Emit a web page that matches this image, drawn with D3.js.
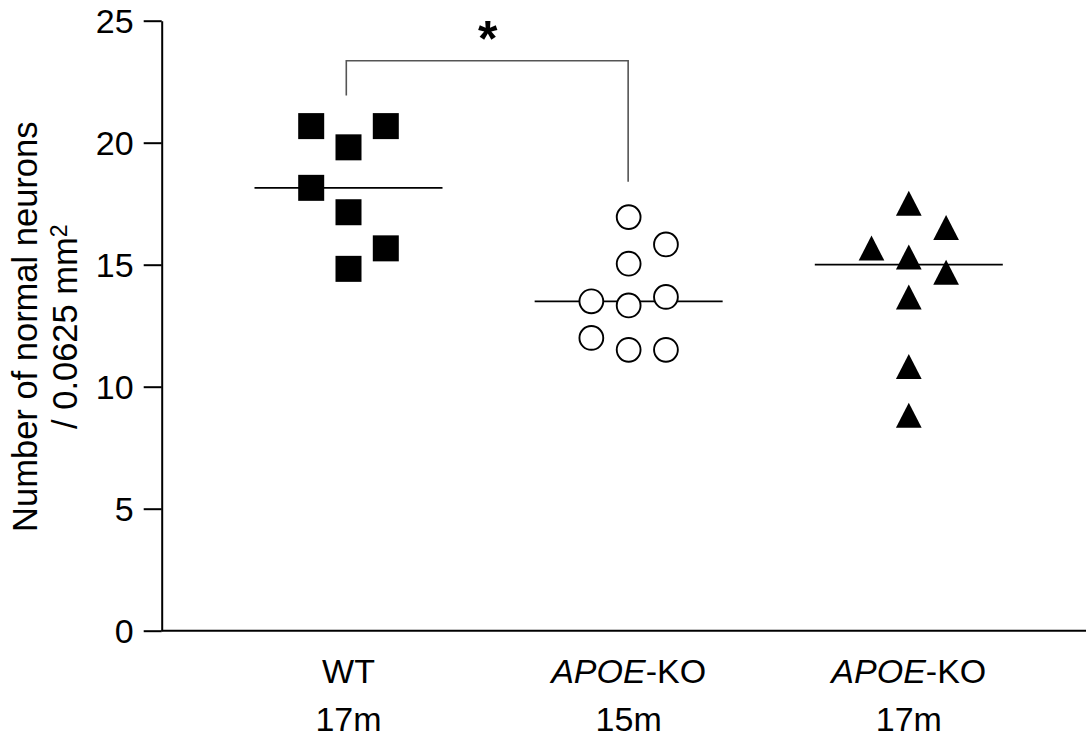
<!DOCTYPE html>
<html>
<head>
<meta charset="utf-8">
<script src="https://cdn.jsdelivr.net/npm/d3@7"></script>
<style>
  body { margin: 0; background: #fff; }
  text { font-family: "Liberation Sans", Arial, sans-serif; }
</style>
</head>
<body>
<div id="graph"></div>
<script>
// groups (x categories)
var groups = ["WT 17m", "APOE-KO 15m", "APOE-KO 17m"];
var labelTop = [["", "WT"], ["APOE", "-KO"], ["APOE", "-KO"]]; // [italic part, roman part]
var labelBottom = ["17m", "15m", "17m"];

// values
var wtValues = [20.68, 19.81, 20.68, 18.15, 17.15, 15.67, 14.83];
var wtSlots = [-1, 0, 1, -1, 0, 1, 0];
var ko15Values = [16.95, 15.83, 15.04, 13.50, 13.33, 13.68, 12.00, 11.51, 11.51];
var ko15Slots = [0, 1, 0, -1, 0, 1, -1, 0, 1];
var ko17Values = [17.52, 16.52, 15.68, 15.32, 14.69, 13.68, 10.83, 8.83];
var ko17Slots = [0, 1, -1, 0, 1, 0, 0, 0];

var yTicks = [0, 5, 10, 15, 20, 25];

// significance bracket: top level and where each leg ends
var bracket = [{from: "WT 17m", to: "APOE-KO 15m", top: 23.36, leftEnd: 21.93, rightEnd: 18.4, label: "*"}];

var series = [
  {group: groups[0], values: wtValues, slots: wtSlots, shape: "square"},
  {group: groups[1], values: ko15Values, slots: ko15Slots, shape: "circle"},
  {group: groups[2], values: ko17Values, slots: ko17Slots, shape: "triangle"}
];

var W = 1086, H = 737;
var plotLeft = 161.7, plotTop = 20.7, plotBottom = 630.7, plotRight = 1086;

var svg = d3.select("#graph").append("svg")
    .attr("width", W)
    .attr("height", H);

var y = d3.scaleLinear().domain([0, 25]).range([plotBottom, plotTop]);
var x = d3.scalePoint().domain(groups).range([348.5, 908.8]);
var slot = d3.scaleLinear().domain([-1, 1]).range([-37.3, 37.3]);

// y axis
var yAxis = d3.axisLeft(y)
    .tickValues(yTicks)
    .tickSize(18)
    .tickSizeOuter(0)
    .tickPadding(10);

var gY = svg.append("g")
    .attr("transform", "translate(" + plotLeft + ",0)")
    .call(yAxis);
gY.select(".domain").attr("stroke-width", 2);
gY.selectAll(".tick line").attr("stroke-width", 2);
gY.selectAll(".tick text")
    .attr("font-family", "Liberation Sans, Arial, sans-serif")
    .attr("font-size", 34)
    .attr("fill", "#000")
    .attr("dy", "0.36em");

// x axis line
svg.append("line")
    .attr("x1", plotLeft).attr("x2", plotRight)
    .attr("y1", y(0)).attr("y2", y(0))
    .attr("stroke", "#000")
    .attr("stroke-width", 2);

// x labels
var xl = svg.append("g").selectAll("g").data(groups).enter().append("g");
xl.append("text")
    .attr("x", function(d) { return x(d); })
    .attr("y", 683)
    .attr("text-anchor", "middle")
    .attr("font-size", 34)
    .each(function(d, i) {
        var t = d3.select(this);
        if (labelTop[i][0]) t.append("tspan").attr("font-style", "italic").text(labelTop[i][0]);
        t.append("tspan").text(labelTop[i][1]);
    });
xl.append("text")
    .attr("x", function(d) { return x(d); })
    .attr("y", 731)
    .attr("text-anchor", "middle")
    .attr("font-size", 34)
    .text(function(d, i) { return labelBottom[i]; });

// y label
var yMid = 326.7;
svg.append("text")
    .attr("transform", "translate(37," + yMid + ") rotate(-90)")
    .attr("text-anchor", "middle")
    .attr("font-size", 34.5)
    .text("Number of normal neurons");
var yl2 = svg.append("text")
    .attr("transform", "translate(77," + yMid + ") rotate(-90)")
    .attr("text-anchor", "middle")
    .attr("font-size", 34.5);
yl2.append("tspan").text("/ 0.0625 mm");
yl2.append("tspan").attr("font-size", 23).attr("dy", -10).text("2");

// median lines
series.forEach(function(s) {
    var m = d3.median(s.values);
    svg.append("line")
        .attr("x1", x(s.group) - 94).attr("x2", x(s.group) + 94)
        .attr("y1", y(m)).attr("y2", y(m))
        .attr("stroke", "#000")
        .attr("stroke-width", 1.8);
});

// points
var triangle = function(cx, cy) {
    var w = 25.7, h = 25;
    return "M" + cx + "," + (cy - h / 2) +
        "L" + (cx + w / 2) + "," + (cy + h / 2) +
        "L" + (cx - w / 2) + "," + (cy + h / 2) + "Z";
};

series.forEach(function(s) {
    var pts = s.values.map(function(v, i) { return {v: v, s: s.slots[i]}; });
    var g = svg.append("g");
    if (s.shape === "square") {
        g.selectAll("rect").data(pts).enter().append("rect")
            .attr("x", function(d) { return x(s.group) + slot(d.s) - 13; })
            .attr("y", function(d) { return y(d.v) - 13; })
            .attr("width", 26).attr("height", 26)
            .attr("fill", "#000");
    } else if (s.shape === "circle") {
        g.selectAll("circle").data(pts).enter().append("circle")
            .attr("cx", function(d) { return x(s.group) + slot(d.s); })
            .attr("cy", function(d) { return y(d.v); })
            .attr("r", 11.9)
            .attr("fill", "#fff")
            .attr("stroke", "#000")
            .attr("stroke-width", 1.9);
    } else {
        g.selectAll("path").data(pts).enter().append("path")
            .attr("d", function(d) { return triangle(x(s.group) + slot(d.s), y(d.v)); })
            .attr("fill", "#000");
    }
});

// significance bracket
bracket.forEach(function(b) {
    var x1 = x(b.from) - 2.2, x2 = x(b.to) - 0.5;
    svg.append("path")
        .attr("d", "M" + x1 + "," + y(b.leftEnd) + "V" + y(b.top) + "H" + x2 + "V" + y(b.rightEnd))
        .attr("fill", "none")
        .attr("stroke", "#555")
        .attr("stroke-width", 1.6);
    svg.append("text")
        .attr("x", (x1 + x2) / 2 + 0.5)
        .attr("y", y(b.top) - 5)
        .attr("text-anchor", "middle")
        .attr("font-size", 50)
        .attr("font-weight", "bold")
        .text(b.label);
});
</script>
</body>
</html>
